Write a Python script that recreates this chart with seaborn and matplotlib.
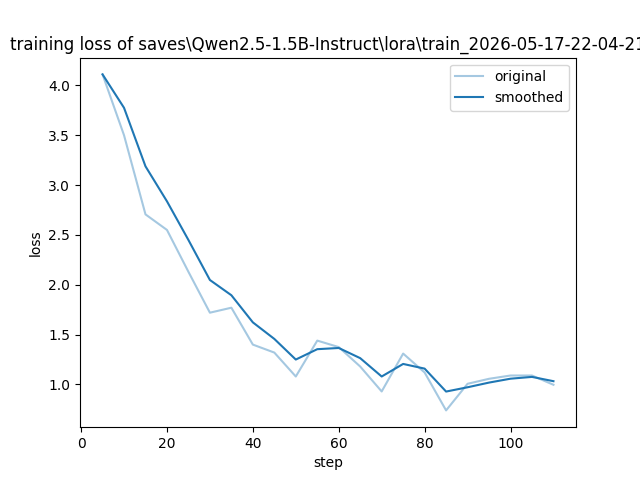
import matplotlib
matplotlib.use("Agg")
import matplotlib.pyplot as plt
import seaborn as sns
import pandas as pd

steps = [5, 10, 15, 20, 25, 30, 35, 40, 45, 50, 55, 60, 65, 70, 75, 80, 85, 90, 95, 100, 105, 110]
original = [4.11, 3.50, 2.706, 2.55, 2.13, 1.72, 1.77, 1.40, 1.32, 1.08, 1.44, 1.375,
            1.18, 0.93, 1.31, 1.12, 0.74, 1.007, 1.057, 1.09, 1.09, 0.997]
smoothed = [4.11, 3.775, 3.188, 2.837, 2.449, 2.048, 1.895, 1.623, 1.457, 1.250, 1.354, 1.366,
            1.264, 1.080, 1.206, 1.159, 0.929, 0.972, 1.019, 1.058, 1.076, 1.033]
title = "training loss of saves\\Qwen2.5-1.5B-Instruct\\lora\\train_2026-05-17-22-04-21"

df = pd.DataFrame({"step": steps, "original": original, "smoothed": smoothed})

fig, ax = plt.subplots(figsize=(6.4, 4.8), dpi=100)
sns.lineplot(data=df, x="step", y="original", color="#1f77b4", alpha=0.4, label="original", ax=ax)
sns.lineplot(data=df, x="step", y="smoothed", color="#1f77b4", label="smoothed", ax=ax)
ax.set_title(title)
ax.set_xlabel("step")
ax.set_ylabel("loss")
ax.legend(loc="upper right")
fig.savefig("out.png", dpi=100)
